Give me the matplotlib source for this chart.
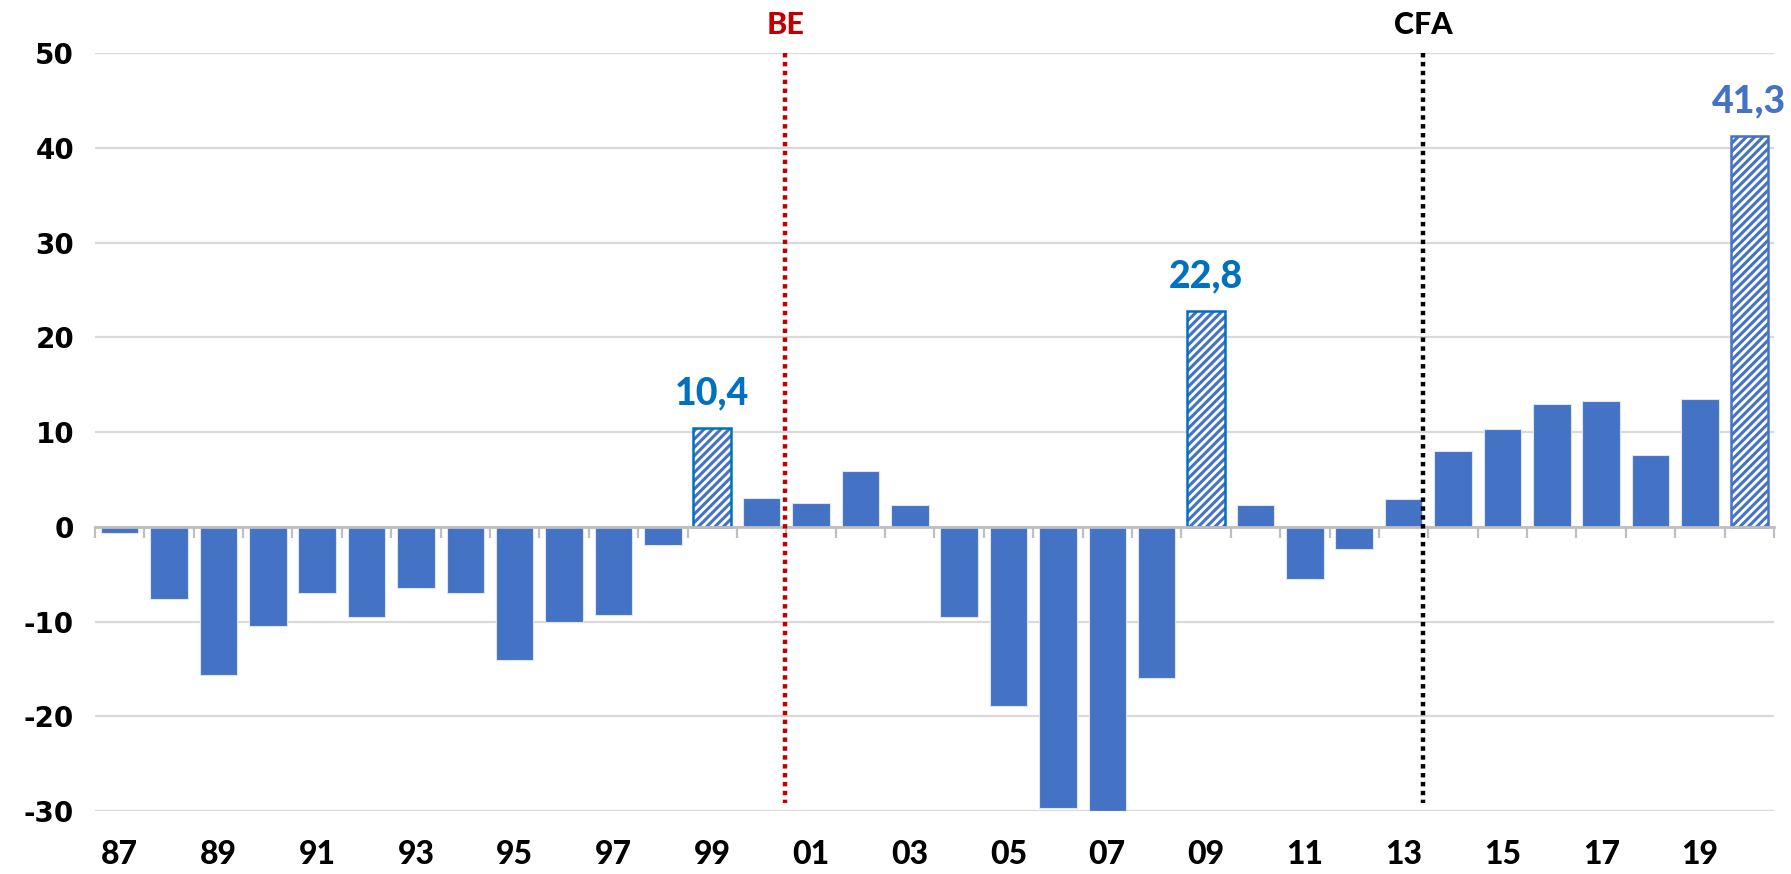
import matplotlib
matplotlib.use('Agg')
import matplotlib.pyplot as plt
import matplotlib.transforms as mtransforms
import numpy as np

plt.rcParams['axes.unicode_minus'] = False
plt.rcParams['hatch.linewidth'] = 2.2

# ---- data ----
years = ['87', '88', '89', '90', '91', '92', '93', '94', '95', '96', '97', '98', '99',
         '00', '01', '02', '03', '04', '05', '06', '07', '08', '09', '10', '11', '12',
         '13', '14', '15', '16', '17', '18', '19', '20']
values = [-0.6, -7.6, -15.6, -10.5, -7.0, -9.5, -6.4, -7.0, -14.1, -10.0, -9.3, -1.9, 10.4,
          3.1, 2.5, 5.9, 2.3, -9.5, -18.9, -29.7, -30.0, -16.0, 22.8, 2.3, -5.5, -2.3,
          2.9, 8.0, 10.3, 13.0, 13.3, 7.6, 13.5, 41.3]
hatched_years = ['99', '09', '20']
hatched_edge = {'99': '#0070C0', '09': '#0070C0', '20': '#4472C4'}
label_color = {'99': '#0070C0', '09': '#0070C0', '20': '#4472C4'}
y_ticks = [-30, -20, -10, 0, 10, 20, 30, 40, 50]
events = [('BE', 13.48, '#C00000'), ('CFA', 26.4, '#000000')]

BAR = '#4472C4'
GRID = '#D9D9D9'
AXIS = '#BFBFBF'

fig = plt.figure(figsize=(17.91, 8.74), dpi=100)
ax = fig.add_axes([0.053, 0.072, 0.9375, 0.867])

for i, (yr, v) in enumerate(zip(years, values)):
    if yr in hatched_years:
        ax.bar(i, v, width=0.76, facecolor='white', edgecolor='#4472C4',
               hatch='////', linewidth=0, zorder=3)
        ax.bar(i, v, width=0.76, facecolor='none', edgecolor=hatched_edge[yr],
               linewidth=1.8, zorder=3.1)
        txt = f"{v:.1f}".replace('.', ',')
        ax.annotate(txt, xy=(i, v), xytext=(0, 17), textcoords='offset points',
                    ha='center', va='baseline', fontsize=27, fontweight='black',
                    family='Lato', color=label_color[yr], annotation_clip=False)
    else:
        ax.bar(i, v, width=0.76, color=BAR, edgecolor='#DCE4F5', linewidth=0.8, zorder=3)

ax.set_xlim(-0.5, len(years) - 0.5)
ax.set_ylim(-30, 50)
ax.set_yticks(y_ticks)
ax.grid(axis='y', color=GRID, linewidth=1.6, zorder=0)
ax.set_axisbelow(True)

for s in ['left', 'right', 'top']:
    ax.spines[s].set_visible(False)
ax.spines['bottom'].set_position(('data', 0))
ax.spines['bottom'].set_color(AXIS)
ax.spines['bottom'].set_linewidth(2)
ax.spines['bottom'].set_zorder(4)

ax.set_xticks(np.arange(-0.5, len(years), 1))
ax.tick_params(axis='x', direction='out', length=8, width=1.6, color=AXIS,
               labelbottom=False)
ax.tick_params(axis='y', length=0, pad=15, labelsize=20)
for lab in ax.get_yticklabels():
    lab.set_fontweight('bold')
    lab.set_family('DejaVu Sans')

trans = mtransforms.blended_transform_factory(ax.transData, ax.transAxes)
for i, yr in enumerate(years):
    if i % 2 == 0:
        ax.text(i, -0.057, yr, transform=trans, ha='center', va='center',
                fontsize=23, fontweight='black', family='Lato', color='black')

for name, xpos, col in events:
    ax.plot([xpos, xpos], [50, -29.2], color=col, linewidth=3.2,
            linestyle=(0, (1, 1)), zorder=5, solid_capstyle='butt',
            dash_capstyle='butt')
    ax.text(xpos, 53, name, ha='center', va='center', fontsize=22,
            fontweight='black', family='Lato', color=col, clip_on=False)

fig.savefig('out.png', dpi=100)
